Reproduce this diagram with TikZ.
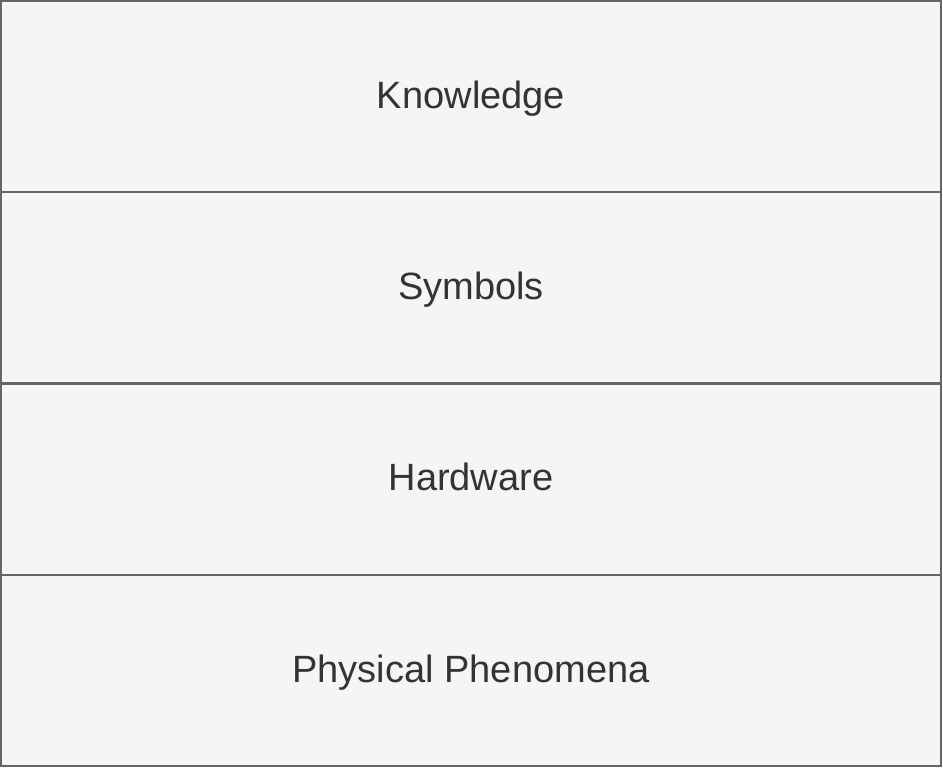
\documentclass[tikz,border=0pt]{standalone}
\usepackage{fontspec}
\setmainfont{Liberation Sans}
\definecolor{boxfill}{HTML}{F5F5F5}
\definecolor{boxline}{HTML}{666666}
\definecolor{boxtext}{HTML}{333333}
\begin{document}
\begin{tikzpicture}[x=1pt,y=-1pt,
  layer/.style={draw=boxline, fill=boxfill, line width=2pt, text=boxtext,
    minimum width=940pt, minimum height=191pt, inner sep=0pt, outer sep=0pt,
    text height=31pt, text depth=8pt,
    font=\fontsize{38}{46}\selectfont}]
\useasboundingbox (0,0) rectangle (943,768);
\node[layer] (k) at (471,96.5) {Knowledge};
\node[layer] (s) at (471,287.5) {Symbols};
\node[layer] (h) at (471,479) {Hardware};
\node[layer] (p) at (471,670.5) {Physical Phenomena};
\end{tikzpicture}
\end{document}
